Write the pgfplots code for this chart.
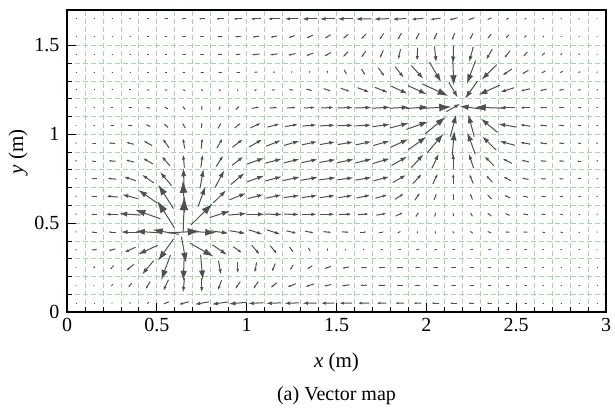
\documentclass[border=0pt]{standalone}
\usepackage{fontspec}
\setmainfont{Liberation Serif}
\usepackage{pgfplots}
\pgfplotsset{compat=1.18}
\usepackage{pgfplotstable}
\usetikzlibrary{arrows.meta}
\definecolor{gridgreen}{RGB}{165,216,165}
\definecolor{arrowgray}{RGB}{80,80,80}
\pgfplotstableread{
x y L a
0.05 1.65 0.006 180
0.15 1.65 0.008 180
0.25 1.65 0.010 180
0.35 1.65 0.013 180
0.45 1.65 0.017 180
0.55 1.65 0.021 180
0.65 1.65 0.028 180
0.75 1.65 0.035 180
0.85 1.65 0.043 180
0.95 1.65 0.050 180
1.05 1.65 0.058 180
1.15 1.65 0.068 180
1.25 1.65 0.076 180
1.35 1.65 0.082 180
1.45 1.65 0.086 180
1.55 1.65 0.088 180
1.65 1.65 0.088 181
1.75 1.65 0.084 182
1.85 1.65 0.078 183
1.95 1.65 0.068 185
2.05 1.65 0.060 188
2.15 1.65 0.048 195
2.25 1.65 0.038 200
2.35 1.65 0.028 205
2.45 1.65 0.018 215
2.55 1.65 0.012 225
2.65 1.65 0.009 230
2.75 1.65 0.007 235
2.85 1.65 0.006 240
2.95 1.65 0.005 250
0.05 1.55 0.005 180
0.15 1.55 0.006 180
0.25 1.55 0.008 180
0.35 1.55 0.010 180
0.45 1.55 0.014 180
0.55 1.55 0.018 180
0.65 1.55 0.022 180
0.75 1.55 0.026 180
0.85 1.55 0.030 182
0.95 1.55 0.034 185
1.05 1.55 0.040 188
1.15 1.55 0.040 192
1.25 1.55 0.040 198
1.35 1.55 0.040 205
1.45 1.55 0.040 212
1.55 1.55 0.040 220
1.65 1.55 0.042 228
1.75 1.55 0.044 235
1.85 1.55 0.045 240
1.95 1.55 0.046 243
2.05 1.55 0.046 246
2.15 1.55 0.045 250
2.25 1.55 0.042 242
2.35 1.55 0.035 232
2.45 1.55 0.026 226
2.55 1.55 0.018 225
2.65 1.55 0.012 225
2.75 1.55 0.008 225
2.85 1.55 0.006 225
2.95 1.55 0.005 230
0.05 1.45 0.005 180
0.15 1.45 0.006 180
0.25 1.45 0.008 180
0.35 1.45 0.011 180
0.45 1.45 0.014 180
0.55 1.45 0.017 180
0.65 1.45 0.020 180
0.75 1.45 0.024 180
0.85 1.45 0.026 182
0.95 1.45 0.030 185
1.05 1.45 0.045 185
1.15 1.45 0.045 188
1.25 1.45 0.045 192
1.35 1.45 0.044 200
1.45 1.45 0.042 210
1.55 1.45 0.042 225
1.65 1.45 0.045 235
1.75 1.45 0.050 245
1.85 1.45 0.060 258
1.95 1.45 0.075 268
2.05 1.45 0.090 276
2.15 1.45 0.100 268
2.25 1.45 0.090 255
2.35 1.45 0.070 240
2.45 1.45 0.052 232
2.55 1.45 0.036 228
2.65 1.45 0.025 225
2.75 1.45 0.016 222
2.85 1.45 0.010 220
2.95 1.45 0.006 220
0.05 1.35 0.005 180
0.15 1.35 0.006 180
0.25 1.35 0.008 180
0.35 1.35 0.010 180
0.45 1.35 0.013 180
0.55 1.35 0.016 180
0.65 1.35 0.018 180
0.75 1.35 0.020 180
0.85 1.35 0.021 180
0.95 1.35 0.021 180
1.05 1.35 0.018 185
1.15 1.35 0.012 200
1.25 1.35 0.010 230
1.35 1.35 0.012 260
1.45 1.35 0.016 285
1.55 1.35 0.030 300
1.65 1.35 0.040 300
1.75 1.35 0.060 305
1.85 1.35 0.080 308
1.95 1.35 0.100 312
2.05 1.35 0.130 300
2.15 1.35 0.150 272
2.25 1.35 0.140 250
2.35 1.35 0.120 225
2.45 1.35 0.065 215
2.55 1.35 0.042 210
2.65 1.35 0.030 208
2.75 1.35 0.020 205
2.85 1.35 0.013 205
2.95 1.35 0.008 210
0.05 1.25 0.005 180
0.15 1.25 0.008 180
0.25 1.25 0.011 180
0.35 1.25 0.014 180
0.45 1.25 0.016 175
0.55 1.25 0.018 170
0.65 1.25 0.016 158
0.75 1.25 0.015 148
0.85 1.25 0.014 130
0.95 1.25 0.013 95
1.05 1.25 0.015 40
1.15 1.25 0.020 5
1.25 1.25 0.025 -8
1.35 1.25 0.035 -15
1.45 1.25 0.045 -20
1.55 1.25 0.055 -20
1.65 1.25 0.070 -21
1.75 1.25 0.080 -22
1.85 1.25 0.100 -25
1.95 1.25 0.115 -25
2.05 1.25 0.160 -25
2.15 1.25 0.100 -60
2.25 1.25 0.120 235
2.35 1.25 0.130 205
2.45 1.25 0.080 198
2.55 1.25 0.055 194
2.65 1.25 0.040 192
2.75 1.25 0.028 190
2.85 1.25 0.018 190
2.95 1.25 0.010 195
0.05 1.15 0.006 250
0.15 1.15 0.012 180
0.25 1.15 0.016 180
0.35 1.15 0.020 180
0.45 1.15 0.022 165
0.55 1.15 0.026 150
0.65 1.15 0.026 125
0.75 1.15 0.026 92
0.85 1.15 0.026 70
0.95 1.15 0.030 45
1.05 1.15 0.045 10
1.15 1.15 0.045 5
1.25 1.15 0.050 3
1.35 1.15 0.063 2
1.45 1.15 0.072 2
1.55 1.15 0.085 2
1.65 1.15 0.092 2
1.75 1.15 0.100 3
1.85 1.15 0.110 3
1.95 1.15 0.125 4
2.05 1.15 0.180 3
2.15 1.15 0.090 30
2.25 1.15 0.130 172
2.35 1.15 0.160 178
2.45 1.15 0.085 180
2.55 1.15 0.055 180
2.65 1.15 0.040 180
2.75 1.15 0.030 180
2.85 1.15 0.020 182
2.95 1.15 0.010 190
0.05 1.05 0.006 250
0.15 1.05 0.015 180
0.25 1.05 0.020 180
0.35 1.05 0.026 175
0.45 1.05 0.030 155
0.55 1.05 0.034 140
0.65 1.05 0.034 120
0.75 1.05 0.034 90
0.85 1.05 0.037 60
0.95 1.05 0.045 40
1.05 1.05 0.065 25
1.15 1.05 0.070 15
1.25 1.05 0.075 10
1.35 1.05 0.080 5
1.45 1.05 0.085 3
1.55 1.05 0.087 2
1.65 1.05 0.090 3
1.75 1.05 0.095 8
1.85 1.05 0.110 15
1.95 1.05 0.130 20
2.05 1.05 0.150 40
2.15 1.05 0.130 75
2.25 1.05 0.130 105
2.35 1.05 0.120 140
2.45 1.05 0.100 170
2.55 1.05 0.060 172
2.65 1.05 0.042 175
2.75 1.05 0.030 177
2.85 1.05 0.020 180
2.95 1.05 0.010 190
0.05 0.95 0.008 250
0.15 0.95 0.026 180
0.25 0.95 0.036 178
0.35 0.95 0.045 165
0.45 0.95 0.055 150
0.55 0.95 0.063 125
0.65 0.95 0.060 100
0.75 0.95 0.060 85
0.85 0.95 0.065 60
0.95 0.95 0.075 38
1.05 0.95 0.085 30
1.15 0.95 0.088 22
1.25 0.95 0.090 16
1.35 0.95 0.088 12
1.45 0.95 0.087 10
1.55 0.95 0.088 10
1.65 0.95 0.090 12
1.75 0.95 0.095 16
1.85 0.95 0.110 25
1.95 0.95 0.125 36
2.05 0.95 0.140 50
2.15 0.95 0.140 85
2.25 0.95 0.130 110
2.35 0.95 0.110 135
2.45 0.95 0.090 165
2.55 0.95 0.058 170
2.65 0.95 0.042 172
2.75 0.95 0.030 175
2.85 0.95 0.020 178
2.95 0.95 0.010 200
0.05 0.85 0.010 250
0.15 0.85 0.028 180
0.25 0.85 0.040 177
0.35 0.85 0.050 165
0.45 0.85 0.065 150
0.55 0.85 0.072 130
0.65 0.85 0.075 95
0.75 0.85 0.075 82
0.85 0.85 0.075 58
0.95 0.85 0.080 38
1.05 0.85 0.100 20
1.15 0.85 0.095 15
1.25 0.85 0.090 14
1.35 0.85 0.092 12
1.45 0.85 0.092 10
1.55 0.85 0.095 12
1.65 0.85 0.095 14
1.75 0.85 0.098 17
1.85 0.85 0.100 30
1.95 0.85 0.100 48
2.05 0.85 0.090 65
2.15 0.85 0.085 90
2.25 0.85 0.085 108
2.35 0.85 0.075 135
2.45 0.85 0.058 153
2.55 0.85 0.045 165
2.65 0.85 0.035 175
2.75 0.85 0.030 178
2.85 0.85 0.025 180
2.95 0.85 0.010 220
0.05 0.75 0.010 250
0.15 0.75 0.030 180
0.25 0.75 0.050 175
0.35 0.75 0.070 162
0.45 0.75 0.080 145
0.55 0.75 0.100 130
0.65 0.75 0.120 92
0.75 0.75 0.110 80
0.85 0.75 0.110 62
0.95 0.75 0.100 40
1.05 0.75 0.100 20
1.15 0.75 0.095 15
1.25 0.75 0.095 12
1.35 0.75 0.095 10
1.45 0.75 0.095 8
1.55 0.75 0.090 8
1.65 0.75 0.090 10
1.75 0.75 0.090 15
1.85 0.75 0.085 30
1.95 0.75 0.075 48
2.05 0.75 0.065 65
2.15 0.75 0.062 90
2.25 0.75 0.058 112
2.35 0.75 0.053 132
2.45 0.75 0.050 152
2.55 0.75 0.038 168
2.65 0.75 0.030 175
2.75 0.75 0.025 178
2.85 0.75 0.020 180
2.95 0.75 0.008 220
0.05 0.65 0.010 250
0.15 0.65 0.035 180
0.25 0.65 0.065 175
0.35 0.65 0.090 165
0.45 0.65 0.130 145
0.55 0.65 0.160 122
0.65 0.65 0.180 93
0.75 0.65 0.120 70
0.85 0.65 0.100 45
0.95 0.65 0.100 22
1.05 0.65 0.090 15
1.15 0.65 0.090 12
1.25 0.65 0.088 8
1.35 0.65 0.087 8
1.45 0.65 0.085 8
1.55 0.65 0.080 9
1.65 0.65 0.078 12
1.75 0.65 0.070 16
1.85 0.65 0.060 32
1.95 0.65 0.050 55
2.05 0.65 0.040 68
2.15 0.65 0.035 90
2.25 0.65 0.037 112
2.35 0.65 0.038 132
2.45 0.65 0.037 155
2.55 0.65 0.032 167
2.65 0.65 0.027 175
2.75 0.65 0.021 178
2.85 0.65 0.018 180
2.95 0.65 0.007 220
0.05 0.55 0.010 250
0.15 0.55 0.035 180
0.25 0.55 0.070 180
0.35 0.55 0.120 176
0.45 0.55 0.150 160
0.55 0.55 0.180 122
0.65 0.55 0.200 88
0.75 0.55 0.170 45
0.85 0.55 0.120 18
0.95 0.55 0.100 5
1.05 0.55 0.100 0
1.15 0.55 0.095 -1
1.25 0.55 0.085 -1
1.35 0.55 0.082 0
1.45 0.55 0.080 0
1.55 0.55 0.070 2
1.65 0.55 0.062 4
1.75 0.55 0.058 10
1.85 0.55 0.045 25
1.95 0.55 0.030 55
2.05 0.55 0.025 72
2.15 0.55 0.020 95
2.25 0.55 0.025 120
2.35 0.55 0.030 140
2.45 0.55 0.030 155
2.55 0.55 0.030 170
2.65 0.55 0.025 175
2.75 0.55 0.020 178
2.85 0.55 0.015 180
2.95 0.55 0.006 220
0.05 0.45 0.008 250
0.15 0.45 0.032 180
0.25 0.45 0.040 180
0.35 0.45 0.100 180
0.45 0.45 0.140 176
0.55 0.45 0.150 170
0.65 0.45 0.180 3
0.75 0.45 0.160 -3
0.85 0.45 0.100 -8
0.95 0.45 0.090 -10
1.05 0.45 0.080 -18
1.15 0.45 0.080 -18
1.25 0.45 0.060 -14
1.35 0.45 0.050 -12
1.45 0.45 0.045 -6
1.55 0.45 0.040 -4
1.65 0.45 0.035 0
1.75 0.45 0.030 0
1.85 0.45 0.020 30
1.95 0.45 0.015 80
2.05 0.45 0.015 100
2.15 0.45 0.015 125
2.25 0.45 0.020 140
2.35 0.45 0.025 155
2.45 0.45 0.025 175
2.55 0.45 0.025 178
2.65 0.45 0.020 180
2.75 0.45 0.020 180
2.85 0.45 0.015 180
2.95 0.45 0.005 220
0.05 0.35 0.008 250
0.15 0.35 0.030 185
0.25 0.35 0.040 195
0.35 0.35 0.070 205
0.45 0.35 0.120 205
0.55 0.35 0.150 235
0.65 0.35 0.150 -80
0.75 0.35 0.150 -30
0.85 0.35 0.100 -35
0.95 0.35 0.060 -35
1.05 0.35 0.070 -50
1.15 0.35 0.060 -50
1.25 0.35 0.040 -55
1.35 0.35 0.025 -60
1.45 0.35 0.015 -88
1.55 0.35 0.010 -90
1.65 0.35 0.010 180
1.75 0.35 0.015 180
1.85 0.35 0.020 180
1.95 0.35 0.020 180
2.05 0.35 0.020 180
2.15 0.35 0.020 180
2.25 0.35 0.020 180
2.35 0.35 0.020 180
2.45 0.35 0.020 180
2.55 0.35 0.020 180
2.65 0.35 0.015 180
2.75 0.35 0.015 180
2.85 0.35 0.010 180
2.95 0.35 0.005 200
0.05 0.25 0.005 250
0.15 0.25 0.015 225
0.25 0.25 0.030 225
0.35 0.25 0.055 220
0.45 0.25 0.100 230
0.55 0.25 0.150 250
0.65 0.25 0.150 268
0.75 0.25 0.140 275
0.85 0.25 0.080 280
0.95 0.25 0.065 270
1.05 0.25 0.060 260
1.15 0.25 0.050 248
1.25 0.25 0.035 240
1.35 0.25 0.035 215
1.45 0.25 0.040 200
1.55 0.25 0.040 190
1.65 0.25 0.035 182
1.75 0.25 0.035 180
1.85 0.25 0.035 180
1.95 0.25 0.030 180
2.05 0.25 0.030 180
2.15 0.25 0.030 180
2.25 0.25 0.025 180
2.35 0.25 0.025 180
2.45 0.25 0.020 180
2.55 0.25 0.020 180
2.65 0.25 0.015 180
2.75 0.25 0.010 180
2.85 0.25 0.010 180
2.95 0.25 0.005 180
0.05 0.15 0.005 250
0.15 0.15 0.006 240
0.25 0.15 0.015 230
0.35 0.15 0.030 230
0.45 0.15 0.050 240
0.55 0.15 0.070 245
0.65 0.15 0.080 265
0.75 0.15 0.080 270
0.85 0.15 0.060 250
0.95 0.15 0.050 235
1.05 0.15 0.050 235
1.15 0.15 0.045 218
1.25 0.15 0.050 202
1.35 0.15 0.050 198
1.45 0.15 0.045 192
1.55 0.15 0.045 188
1.65 0.15 0.040 185
1.75 0.15 0.040 182
1.85 0.15 0.035 180
1.95 0.15 0.035 180
2.05 0.15 0.030 180
2.15 0.15 0.030 180
2.25 0.15 0.025 180
2.35 0.15 0.020 180
2.45 0.15 0.020 180
2.55 0.15 0.015 180
2.65 0.15 0.015 180
2.75 0.15 0.010 180
2.85 0.15 0.010 180
2.95 0.15 0.005 180
0.05 0.05 0.004 180
0.15 0.05 0.004 180
0.25 0.05 0.005 200
0.35 0.05 0.010 220
0.45 0.05 0.015 215
0.55 0.05 0.035 205
0.65 0.05 0.060 195
0.75 0.05 0.080 190
0.85 0.05 0.090 188
0.95 0.05 0.100 185
1.05 0.05 0.085 183
1.15 0.05 0.085 182
1.25 0.05 0.080 182
1.35 0.05 0.080 181
1.45 0.05 0.075 181
1.55 0.05 0.070 181
1.65 0.05 0.065 181
1.75 0.05 0.055 181
1.85 0.05 0.050 181
1.95 0.05 0.045 181
2.05 0.05 0.045 180
2.15 0.05 0.040 180
2.25 0.05 0.035 180
2.35 0.05 0.030 180
2.45 0.05 0.025 180
2.55 0.05 0.015 180
2.65 0.05 0.015 180
2.75 0.05 0.010 180
2.85 0.05 0.008 180
2.95 0.05 0.005 180
}\vdata
\begin{document}
\begin{tikzpicture}
\begin{axis}[
  scale only axis, width=539pt, height=302pt,
  xmin=0, xmax=3, ymin=0, ymax=1.7,
  xtick={0,0.5,1,1.5,2,2.5,3}, ytick={0,0.5,1,1.5},
  minor tick num=4,
  tick align=inside, xtick pos=left, ytick pos=left,
  major tick length=9pt, minor tick length=5pt,
  every tick/.style={black, line width=0.8pt},
  grid=both,
  grid style={gridgreen, line width=0.8pt, dash pattern=on 5pt off 3pt},
  axis line style={black, line width=1.2pt},
  ticklabel style={font=\fontsize{20}{24}\selectfont},
  /pgf/number format/assume math mode=true,
  xticklabel style={yshift=-3pt},
  yticklabel style={xshift=-4pt},
]
\addplot[arrowgray, line width=1pt,
  point meta=\thisrow{L}, point meta min=0, point meta max=1,
  quiver={u=\thisrow{L}*cos(\thisrow{a}), v=\thisrow{L}*sin(\thisrow{a}),
    every arrow/.append style={-{Latex[length=68pt,width=44pt,
      scale length={max(0.005,\pgfplotspointmetatransformed/1000)},
      scale width={max(0.005,\pgfplotspointmetatransformed/1000)}]}}},
] table[x expr=\thisrow{x}-0.5*\thisrow{L}*cos(\thisrow{a}),
        y expr=\thisrow{y}-0.5*\thisrow{L}*sin(\thisrow{a})] {\vdata};
\coordinate (TL) at (rel axis cs:0,1);
\coordinate (BR) at (rel axis cs:1,0);
\coordinate (BC) at (rel axis cs:0.5,0);
\coordinate (LC) at (rel axis cs:0,0.5);
\end{axis}
\node[inner sep=0pt, font=\fontsize{21}{25}\selectfont] at ([yshift=-50pt]BC) {\textit{x} (m)};
\node[inner sep=0pt, rotate=90, font=\fontsize{21}{25}\selectfont] at ([xshift=-49pt,yshift=9pt]LC) {\textit{y} (m)};
\node[inner sep=0pt, font=\fontsize{20}{24}\selectfont] at ([yshift=-84pt]BC) {(a) Vector map};
\pgfresetboundingbox
\path ([xshift=-67pt,yshift=10pt]TL) rectangle ([xshift=9pt,yshift=-98pt]BR);
\end{tikzpicture}
\end{document}
